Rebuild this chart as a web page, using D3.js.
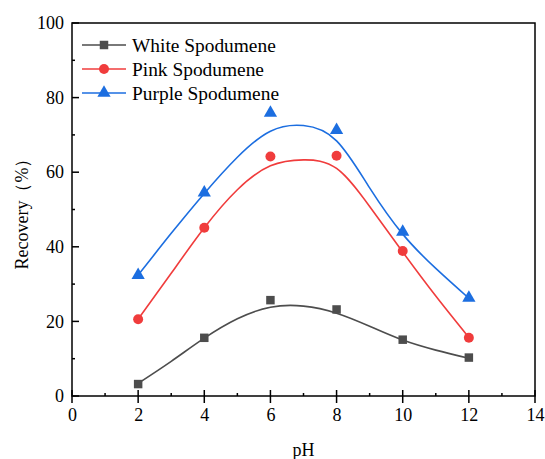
<!DOCTYPE html>
<html>
<head>
<meta charset="utf-8">
<title>Recovery vs pH</title>
<script src="https://cdn.jsdelivr.net/npm/d3@7"></script>
<style>
  body { margin: 0; background: #fff; }
</style>
</head>
<body>
<div id="chart"></div>
<script>
// measured points
var ph = [2, 4, 6, 8, 10, 12];
var white  = [3.2, 15.6, 25.7, 23.2, 15.1, 10.3];
var pink   = [20.6, 45.1, 64.2, 64.4, 38.9, 15.6];
var purple = [32.4, 54.5, 75.9, 71.3, 44.0, 26.3];

// fitted curves
var fitPh     = [2, 3, 4, 5, 6, 7, 8, 9, 10, 11, 12];
var whiteFit  = [3.4, 9.3, 15.5, 20.7, 23.8, 24.1, 22.2, 18.7, 15.0, 12.3, 10.1];
var pinkFit   = [20.6, 32.9, 45.1, 55.3, 61.7, 63.3, 61.0, 50.8, 38.6, 26.8, 15.7];
var purpleFit = [32.4, 43.6, 54.3, 64.0, 71.0, 72.5, 68.4, 55.8, 43.4, 34.2, 26.2];

var names = ["White Spodumene", "Pink Spodumene", "Purple Spodumene"];
var colors = ["#4d4d4d", "#f03c3c", "#1c6ee0"];
var xTicks = [0, 2, 4, 6, 8, 10, 12, 14];
var yTicks = [0, 20, 40, 60, 80, 100];

var FONT = "'Liberation Serif'";

var W = 545, H = 459;
var m = {left: 72, right: 10, top: 23, bottom: 63};

var svg = d3.select('#chart').append('svg')
  .attr('width', W).attr('height', H);

var x = d3.scaleLinear().domain([0, 14]).range([m.left, W - m.right]);
var y = d3.scaleLinear().domain([0, 100]).range([H - m.bottom, m.top]);

// frame
svg.append('rect')
  .attr('x', x(0)).attr('y', y(100))
  .attr('width', x(14) - x(0)).attr('height', y(0) - y(100))
  .attr('fill', 'none').attr('stroke', '#000').attr('stroke-width', 1.5);

// x axis: major ticks cross the line, minor ticks point in
var gx = svg.append('g').attr('transform', 'translate(0,' + y(0) + ')');
gx.call(d3.axisBottom(x).tickValues(xTicks).tickSize(0).tickPadding(12))
  .call(function(g){ g.select('.domain').remove(); });
gx.selectAll('.tick text').style('font-family', FONT).style('font-size', '18px').attr('fill', '#000');
gx.selectAll('.major').data(xTicks).enter().append('line')
  .attr('x1', function(d){ return x(d); }).attr('x2', function(d){ return x(d); })
  .attr('y1', -6).attr('y2', 7).attr('stroke', '#000').attr('stroke-width', 1.5);
gx.selectAll('.minor').data(d3.range(1, 14, 2)).enter().append('line')
  .attr('x1', function(d){ return x(d); }).attr('x2', function(d){ return x(d); })
  .attr('y1', -3).attr('y2', 0).attr('stroke', '#000').attr('stroke-width', 1.5);

// y axis: ticks point in
var gy = svg.append('g').attr('transform', 'translate(' + x(0) + ',0)');
gy.call(d3.axisLeft(y).tickValues(yTicks).tickSize(0).tickPadding(8))
  .call(function(g){ g.select('.domain').remove(); });
gy.selectAll('.tick text').style('font-family', FONT).style('font-size', '18px').attr('fill', '#000');
gy.selectAll('.major').data(yTicks).enter().append('line')
  .attr('y1', function(d){ return y(d); }).attr('y2', function(d){ return y(d); })
  .attr('x1', 0).attr('x2', 7).attr('stroke', '#000').attr('stroke-width', 1.5);
gy.selectAll('.minor').data(d3.range(10, 100, 20)).enter().append('line')
  .attr('y1', function(d){ return y(d); }).attr('y2', function(d){ return y(d); })
  .attr('x1', 0).attr('x2', 3).attr('stroke', '#000').attr('stroke-width', 1.5);

// axis titles
svg.append('text').attr('x', (x(0) + x(14)) / 2).attr('y', 456)
  .attr('text-anchor', 'middle').style('font-family', FONT).style('font-size', '18px').text('pH');
svg.append('text').attr('transform', 'translate(28,' + y(50) + ') rotate(-90)')
  .attr('text-anchor', 'middle').style('font-family', FONT).style('font-size', '18px')
  .text('Recovery（%）');

// curves
var line = d3.line()
  .x(function(d){ return x(d[0]); })
  .y(function(d){ return y(d[1]); })
  .curve(d3.curveNatural);

var fits = [whiteFit, pinkFit, purpleFit];
var pts = [white, pink, purple];
fits.forEach(function(f, i){
  svg.append('path').datum(d3.zip(fitPh, f))
    .attr('d', line).attr('fill', 'none')
    .attr('stroke', colors[i]).attr('stroke-width', 1.6);
});

var shapes = [d3.symbolSquare, d3.symbolCircle, d3.symbolTriangle];
var sizes = [72, 78, 76];
function marker(g, i, cx, cy){
  g.append('path')
    .attr('d', d3.symbol().type(shapes[i]).size(sizes[i]))
    .attr('transform', 'translate(' + cx + ',' + cy + ')')
    .attr('fill', colors[i]);
}

pts.forEach(function(p, i){
  p.forEach(function(v, j){ marker(svg, i, x(ph[j]), y(v)); });
});

// legend
var leg = svg.append('g');
names.forEach(function(n, i){
  var ly = 45 + i * 24;
  leg.append('line').attr('x1', 82).attr('x2', 126).attr('y1', ly).attr('y2', ly)
    .attr('stroke', colors[i]).attr('stroke-width', 1.6);
  marker(leg, i, 104, ly);
  leg.append('text').attr('x', 132).attr('y', ly + 7)
    .style('font-family', FONT).style('font-size', '19.4px').text(n);
});
</script>
</body>
</html>
